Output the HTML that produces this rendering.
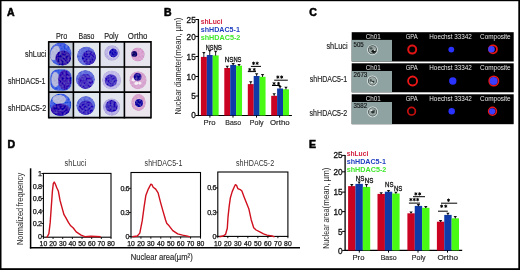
<!DOCTYPE html>
<html><head><meta charset="utf-8"><style>
html,body{margin:0;padding:0;background:#fff;}
body{width:520px;height:270px;overflow:hidden;position:relative;}
#w{position:absolute;left:0;top:0;width:520px;height:270px;will-change:transform;}
svg{display:block;font-family:"Liberation Sans", sans-serif;}
</style></head><body><div id="w">
<svg width="520" height="270" viewBox="0 0 520 270">
<rect x="0" y="0" width="520" height="270" fill="#fff"/>
<text x="7.0" y="15.5" font-size="10.5" fill="#000" font-weight="bold" stroke="#000" stroke-width="0.55">A</text>
<text x="164.0" y="15.6" font-size="10.5" fill="#000" font-weight="bold" stroke="#000" stroke-width="0.55">B</text>
<text x="309.3" y="15.8" font-size="10.5" fill="#000" font-weight="bold" stroke="#000" stroke-width="0.55">C</text>
<text x="7.5" y="147.8" font-size="10.5" fill="#000" font-weight="bold" stroke="#000" stroke-width="0.55">D</text>
<text x="309.0" y="147.6" font-size="10.5" fill="#000" font-weight="bold" stroke="#000" stroke-width="0.55">E</text>
<text x="56.0" y="38.5" font-size="9.4" fill="#262626" textLength="11.2" lengthAdjust="spacingAndGlyphs"  stroke="#262626" stroke-width="0.18">Pro</text>
<text x="78.6" y="38.5" font-size="9.4" fill="#262626" textLength="15.8" lengthAdjust="spacingAndGlyphs"  stroke="#262626" stroke-width="0.18">Baso</text>
<text x="104.2" y="38.5" font-size="9.4" fill="#262626" textLength="14.2" lengthAdjust="spacingAndGlyphs"  stroke="#262626" stroke-width="0.18">Poly</text>
<text x="127.8" y="38.5" font-size="9.4" fill="#262626" textLength="19.6" lengthAdjust="spacingAndGlyphs"  stroke="#262626" stroke-width="0.18">Ortho</text>
<text x="25.1" y="57.4" font-size="9.2" fill="#262626" textLength="21.2" lengthAdjust="spacingAndGlyphs"  stroke="#262626" stroke-width="0.18">shLuci</text>
<text x="7.9" y="83.8" font-size="9.2" fill="#262626" textLength="37.6" lengthAdjust="spacingAndGlyphs"  stroke="#262626" stroke-width="0.18">shHDAC5-1</text>
<text x="7.9" y="111.1" font-size="9.2" fill="#262626" textLength="38.3" lengthAdjust="spacingAndGlyphs"  stroke="#262626" stroke-width="0.18">shHDAC5-2</text>
<rect x="48.7" y="41.9" width="24.700000000000003" height="25.1" fill="#c5ced8" />
<rect x="73.4" y="41.9" width="26.39999999999999" height="25.1" fill="#e2e7ee" />
<rect x="99.8" y="41.9" width="24.60000000000001" height="25.1" fill="#e0e3ee" />
<rect x="124.4" y="41.9" width="26.599999999999994" height="25.1" fill="#e9e5ee" />
<rect x="48.7" y="67.0" width="24.700000000000003" height="25.099999999999994" fill="#c2cbd6" />
<rect x="73.4" y="67.0" width="26.39999999999999" height="25.099999999999994" fill="#e0e6ee" />
<rect x="99.8" y="67.0" width="24.60000000000001" height="25.099999999999994" fill="#e3e5ee" />
<rect x="124.4" y="67.0" width="26.599999999999994" height="25.099999999999994" fill="#ebe5ee" />
<rect x="48.7" y="92.1" width="24.700000000000003" height="25.5" fill="#c8d0dc" />
<rect x="73.4" y="92.1" width="26.39999999999999" height="25.5" fill="#e0e6ee" />
<rect x="99.8" y="92.1" width="24.60000000000001" height="25.5" fill="#e3e5ee" />
<rect x="124.4" y="92.1" width="26.599999999999994" height="25.5" fill="#ebe5ee" />
<defs><filter id="bl" x="-20%" y="-20%" width="140%" height="140%"><feGaussianBlur stdDeviation="0.55"/></filter><filter id="tex" x="-10%" y="-10%" width="120%" height="120%"><feTurbulence type="fractalNoise" baseFrequency="0.5" numOctaves="2" seed="4" result="n"/><feColorMatrix in="n" type="matrix" values="1 0 0 0 0 1 0 0 0 0 1 0 0 0 0 0 0 0 0 1" result="g"/><feComposite in="SourceGraphic" in2="g" operator="arithmetic" k1="0" k2="1" k3="0.22" k4="-0.11" result="m"/><feComposite in="m" in2="SourceAlpha" operator="in"/><feGaussianBlur stdDeviation="0.45"/></filter></defs>
<g filter="url(#tex)">
<ellipse cx="60.6" cy="54.0" rx="10.9" ry="11.5" fill="#4660e2" />
<ellipse cx="55.0" cy="53.0" rx="4.4" ry="7.6" fill="#b6badc" transform="rotate(20 55 53)"/>
<ellipse cx="63.2" cy="58.0" rx="7.9" ry="7.6" fill="#3a20aa" />
<ellipse cx="86.3" cy="56.0" rx="9.4" ry="9.4" fill="#6470dc" />
<ellipse cx="89.0" cy="57.6" rx="7.0" ry="7.2" fill="#3f2cbc" />
<ellipse cx="112.0" cy="53.0" rx="7.8" ry="7.8" fill="#bab2e2" />
<ellipse cx="113.0" cy="53.0" rx="5.3" ry="5.3" fill="#d6d2ee" />
<ellipse cx="113.4" cy="53.0" rx="4.4" ry="4.4" fill="#2c20bc" />
<ellipse cx="137.8" cy="54.5" rx="6.9" ry="6.9" fill="#d9a2d0" />
<ellipse cx="134.3" cy="53.9" rx="2.9" ry="2.9" fill="#1a0a72" />
<rect x="50.2" y="69.2" width="21.6" height="21.6" rx="8" fill="#4260e4"/>
<ellipse cx="55.4" cy="79.5" rx="4.0" ry="7.4" fill="#b4b8dc" />
<ellipse cx="64.6" cy="80.0" rx="6.6" ry="10.0" fill="#4224b4" />
<ellipse cx="85.4" cy="79.4" rx="9.5" ry="9.5" fill="#6470dc" />
<ellipse cx="85.6" cy="81.4" rx="7.6" ry="7.4" fill="#4a36c0" />
<ellipse cx="111.6" cy="80.0" rx="9.6" ry="9.6" fill="#c2bae8" />
<ellipse cx="110.9" cy="80.5" rx="6.2" ry="6.2" fill="#4a38c0" />
<ellipse cx="138.0" cy="80.2" rx="8.6" ry="9.0" fill="#d8a6d0" />
<ellipse cx="133.4" cy="79.8" rx="1.8" ry="1.8" fill="#f4f0f6" />
<ellipse cx="136.4" cy="83.3" rx="1.9" ry="1.8" fill="#f4f0f6" />
<ellipse cx="139.9" cy="83.1" rx="1.6" ry="1.6" fill="#f4f0f6" />
<ellipse cx="137.6" cy="76.8" rx="3.9" ry="3.9" fill="#2a149c" />
<ellipse cx="60.5" cy="104.8" rx="10.8" ry="11.4" fill="#4462e4" />
<ellipse cx="59.2" cy="99.6" rx="6.8" ry="4.6" fill="#b6badc" />
<ellipse cx="60.4" cy="109.6" rx="9.6" ry="6.2" fill="#3414b0" />
<ellipse cx="85.8" cy="105.6" rx="9.5" ry="9.5" fill="#6470dc" />
<ellipse cx="86.0" cy="107.8" rx="7.6" ry="7.2" fill="#4230c0" />
<ellipse cx="111.6" cy="107.0" rx="8.6" ry="8.8" fill="#b4ace4" />
<ellipse cx="111.6" cy="106.2" rx="6.1" ry="6.1" fill="#4230bc" />
<ellipse cx="138.5" cy="102.6" rx="7.3" ry="8.5" fill="#d8a2cc" />
<ellipse cx="138.8" cy="103.0" rx="4.7" ry="4.7" fill="#e2c8e0" />
<ellipse cx="139.0" cy="103.0" rx="4.0" ry="4.0" fill="#2412a4" />
</g>
<line x1="48.7" y1="41.1" x2="48.7" y2="118.39999999999999" stroke="#000" stroke-width="1.6" />
<line x1="73.4" y1="41.1" x2="73.4" y2="118.39999999999999" stroke="#000" stroke-width="1.6" />
<line x1="99.8" y1="41.1" x2="99.8" y2="118.39999999999999" stroke="#000" stroke-width="1.6" />
<line x1="124.4" y1="41.1" x2="124.4" y2="118.39999999999999" stroke="#000" stroke-width="1.6" />
<line x1="151.0" y1="41.1" x2="151.0" y2="118.39999999999999" stroke="#000" stroke-width="1.6" />
<line x1="48.7" y1="41.9" x2="151.0" y2="41.9" stroke="#000" stroke-width="1.6" />
<line x1="48.7" y1="67.0" x2="151.0" y2="67.0" stroke="#000" stroke-width="1.6" />
<line x1="48.7" y1="92.1" x2="151.0" y2="92.1" stroke="#000" stroke-width="1.6" />
<line x1="48.7" y1="117.6" x2="151.0" y2="117.6" stroke="#000" stroke-width="1.6" />
<line x1="198.4" y1="19.0" x2="198.4" y2="116.1" stroke="#000" stroke-width="1.3" />
<line x1="197.8" y1="115.5" x2="291.9" y2="115.5" stroke="#000" stroke-width="1.2" />
<line x1="195.4" y1="19.5" x2="198.4" y2="19.5" stroke="#000" stroke-width="1" />
<text x="195.7" y="23.0" font-size="8.2" fill="#111" text-anchor="end" stroke="#111" stroke-width="0.3">25</text>
<line x1="195.4" y1="36.4" x2="198.4" y2="36.4" stroke="#000" stroke-width="1" />
<text x="195.7" y="39.7" font-size="8.2" fill="#111" text-anchor="end" stroke="#111" stroke-width="0.3">20</text>
<line x1="195.4" y1="56.5" x2="198.4" y2="56.5" stroke="#000" stroke-width="1" />
<text x="195.7" y="60.0" font-size="8.2" fill="#111" text-anchor="end" stroke="#111" stroke-width="0.3">15</text>
<line x1="195.4" y1="76.5" x2="198.4" y2="76.5" stroke="#000" stroke-width="1" />
<text x="195.7" y="79.8" font-size="8.2" fill="#111" text-anchor="end" stroke="#111" stroke-width="0.3">10</text>
<line x1="195.4" y1="96.0" x2="198.4" y2="96.0" stroke="#000" stroke-width="1" />
<text x="195.7" y="99.4" font-size="8.2" fill="#111" text-anchor="end" stroke="#111" stroke-width="0.3">5</text>
<line x1="195.4" y1="115.5" x2="198.4" y2="115.5" stroke="#000" stroke-width="1" />
<text x="195.7" y="117.7" font-size="8.2" fill="#111" text-anchor="end" stroke="#111" stroke-width="0.3">0</text>
<rect x="200.9" y="56.9" width="5.95" height="58.6" fill="#cb0322" />
<rect x="206.8" y="55.0" width="5.95" height="60.5" fill="#0f3ba8" />
<rect x="212.70000000000002" y="55.4" width="5.95" height="60.1" fill="#48fa14" />
<rect x="224.3" y="68.0" width="5.95" height="47.5" fill="#cb0322" />
<rect x="230.20000000000002" y="64.9" width="5.95" height="50.599999999999994" fill="#0f3ba8" />
<rect x="236.10000000000002" y="65.7" width="5.95" height="49.8" fill="#48fa14" />
<rect x="247.8" y="84.1" width="5.95" height="31.400000000000006" fill="#cb0322" />
<rect x="253.70000000000002" y="76.0" width="5.95" height="39.5" fill="#0f3ba8" />
<rect x="259.6" y="76.8" width="5.95" height="38.7" fill="#48fa14" />
<rect x="271.2" y="95.8" width="5.95" height="19.700000000000003" fill="#cb0322" />
<rect x="277.09999999999997" y="88.5" width="5.95" height="27.0" fill="#0f3ba8" />
<rect x="283.0" y="89.3" width="5.95" height="26.200000000000003" fill="#48fa14" />
<path d="M202.15,51.90L205.55,51.90L204.30,53.70L204.30,57.20L203.40,57.20L203.40,53.70Z" fill="#111"/>
<path d="M208.05,49.90L211.45,49.90L210.20,51.70L210.20,55.30L209.30,55.30L209.30,51.70Z" fill="#111"/>
<path d="M213.95,50.70L217.35,50.70L216.10,52.50L216.10,55.70L215.20,55.70L215.20,52.50Z" fill="#111"/>
<path d="M225.55,65.70L228.95,65.70L227.70,67.50L227.70,68.30L226.80,68.30L226.80,67.50Z" fill="#111"/>
<path d="M231.45,63.00L234.85,63.00L233.60,64.80L233.60,65.20L232.70,65.20L232.70,64.80Z" fill="#111"/>
<path d="M237.35,63.90L240.75,63.90L239.50,65.70L239.50,66.00L238.60,66.00L238.60,65.70Z" fill="#111"/>
<path d="M249.05,81.20L252.45,81.20L251.20,83.00L251.20,84.40L250.30,84.40L250.30,83.00Z" fill="#111"/>
<path d="M254.95,73.20L258.35,73.20L257.10,75.00L257.10,76.30L256.20,76.30L256.20,75.00Z" fill="#111"/>
<path d="M260.85,74.00L264.25,74.00L263.00,75.80L263.00,77.10L262.10,77.10L262.10,75.80Z" fill="#111"/>
<path d="M272.45,93.20L275.85,93.20L274.60,95.00L274.60,96.10L273.70,96.10L273.70,95.00Z" fill="#111"/>
<path d="M278.35,85.90L281.75,85.90L280.50,87.70L280.50,88.80L279.60,88.80L279.60,87.70Z" fill="#111"/>
<path d="M284.25,86.70L287.65,86.70L286.40,88.50L286.40,89.60L285.50,89.60L285.50,88.50Z" fill="#111"/>
<line x1="209.9" y1="115.5" x2="209.9" y2="117.6" stroke="#000" stroke-width="1" />
<text x="203.60000000000002" y="124.6" font-size="7.8" fill="#262626" textLength="12.0" lengthAdjust="spacingAndGlyphs"  stroke="#262626" stroke-width="0.18">Pro</text>
<line x1="233.0" y1="115.5" x2="233.0" y2="117.6" stroke="#000" stroke-width="1" />
<text x="225.3" y="124.6" font-size="7.8" fill="#262626" textLength="15.8" lengthAdjust="spacingAndGlyphs"  stroke="#262626" stroke-width="0.18">Baso</text>
<line x1="256.5" y1="115.5" x2="256.5" y2="117.6" stroke="#000" stroke-width="1" />
<text x="249.8" y="124.6" font-size="7.8" fill="#262626" textLength="13.700000000000001" lengthAdjust="spacingAndGlyphs"  stroke="#262626" stroke-width="0.18">Poly</text>
<line x1="279.6" y1="115.5" x2="279.6" y2="117.6" stroke="#000" stroke-width="1" />
<text x="270.0" y="124.6" font-size="7.8" fill="#262626" textLength="19.599999999999998" lengthAdjust="spacingAndGlyphs"  stroke="#262626" stroke-width="0.18">Ortho</text>
<text x="200.7" y="24.2" font-size="8.0" fill="#d21e3c" font-weight="bold" textLength="21.8" lengthAdjust="spacingAndGlyphs" >shLuci</text>
<text x="200.7" y="32.4" font-size="8.0" fill="#1f3fc0" font-weight="bold" textLength="39.2" lengthAdjust="spacingAndGlyphs" >shHDAC5-1</text>
<text x="200.7" y="40.3" font-size="8.0" fill="#3fe82a" font-weight="bold" textLength="39.7" lengthAdjust="spacingAndGlyphs" >shHDAC5-2</text>
<text x="205.7" y="50.0" font-size="6.7" fill="#111" textLength="7.6" lengthAdjust="spacingAndGlyphs" stroke="#111" stroke-width="0.28">NS</text>
<text x="213.4" y="49.6" font-size="6.7" fill="#111" textLength="8.6" lengthAdjust="spacingAndGlyphs" stroke="#111" stroke-width="0.28">NS</text>
<text x="224.8" y="61.8" font-size="6.7" fill="#111" textLength="8.7" lengthAdjust="spacingAndGlyphs" stroke="#111" stroke-width="0.28">NS</text>
<text x="233.4" y="62.0" font-size="6.7" fill="#111" textLength="8.1" lengthAdjust="spacingAndGlyphs" stroke="#111" stroke-width="0.28">NS</text>
<line x1="250.9" y1="66.4" x2="261" y2="66.4" stroke="#000" stroke-width="1.0" />
<path d="M253.55,61.65L253.55,64.95M252.12,62.47L254.98,64.12M254.98,62.47L252.12,64.12" stroke="#000" stroke-width="0.95" fill="none"/>
<path d="M257.15,61.65L257.15,64.95M255.72,62.47L258.58,64.12M258.58,62.47L255.72,64.12" stroke="#000" stroke-width="0.95" fill="none"/>
<line x1="247.8" y1="71.6" x2="256" y2="71.6" stroke="#000" stroke-width="1.0" />
<path d="M249.75,67.95L249.75,71.25M248.32,68.77L251.18,70.42M251.18,68.77L248.32,70.42" stroke="#000" stroke-width="0.95" fill="none"/>
<path d="M254.25,67.95L254.25,71.25M252.82,68.77L255.68,70.42M255.68,68.77L252.82,70.42" stroke="#000" stroke-width="0.95" fill="none"/>
<line x1="274.2" y1="80.2" x2="287.8" y2="80.2" stroke="#000" stroke-width="1.0" />
<path d="M277.85,75.45L277.85,78.75M276.42,76.27L279.28,77.92M279.28,76.27L276.42,77.92" stroke="#000" stroke-width="0.95" fill="none"/>
<path d="M281.65,75.45L281.65,78.75M280.22,76.27L283.08,77.92M283.08,76.27L280.22,77.92" stroke="#000" stroke-width="0.95" fill="none"/>
<line x1="272" y1="85.5" x2="280.5" y2="85.5" stroke="#000" stroke-width="1.0" />
<path d="M274.05,81.95L274.05,85.25M272.62,82.77L275.48,84.42M275.48,82.77L272.62,84.42" stroke="#000" stroke-width="0.95" fill="none"/>
<path d="M278.55,81.95L278.55,85.25M277.12,82.77L279.98,84.42M279.98,82.77L277.12,84.42" stroke="#000" stroke-width="0.95" fill="none"/>
<text transform="translate(181.4,114.6) rotate(-90)" font-size="9.6" fill="#262626" textLength="56.0" lengthAdjust="spacingAndGlyphs">Nuclear diameter</text>
<text transform="translate(181.4,58.4) rotate(-90)" font-size="9.6" fill="#262626" textLength="40.9" lengthAdjust="spacingAndGlyphs">(mean, µm)</text>
<text x="326.4" y="49.2" font-size="9.4" fill="#262626" textLength="21.2" lengthAdjust="spacingAndGlyphs"  stroke="#262626" stroke-width="0.18">shLuci</text>
<text x="309.8" y="82.0" font-size="9.4" fill="#262626" textLength="37.4" lengthAdjust="spacingAndGlyphs"  stroke="#262626" stroke-width="0.18">shHDAC5-1</text>
<text x="309.6" y="115.5" font-size="9.4" fill="#262626" textLength="37.6" lengthAdjust="spacingAndGlyphs"  stroke="#262626" stroke-width="0.18">shHDAC5-2</text>
<rect x="351.7" y="32.2" width="162" height="29.3" fill="#000" />
<rect x="351.7" y="39.900000000000006" width="40.3" height="21.5" fill="#8fa3a2" />
<text x="365.8" y="38.7" font-size="6.6" fill="#e6e6e6" textLength="15" lengthAdjust="spacingAndGlyphs" >Ch01</text>
<text x="405.7" y="38.7" font-size="6.6" fill="#e6e6e6" textLength="12" lengthAdjust="spacingAndGlyphs" >GPA</text>
<text x="429.3" y="38.7" font-size="6.6" fill="#e6e6e6" textLength="42.6" lengthAdjust="spacingAndGlyphs" >Hoechst 33342</text>
<text x="480.09999999999997" y="38.7" font-size="6.6" fill="#e6e6e6" textLength="30.6" lengthAdjust="spacingAndGlyphs" >Composite</text>
<text x="353.5" y="46.9" font-size="7.0" fill="#111" textLength="10.2" lengthAdjust="spacingAndGlyphs" stroke="#111" stroke-width="0.15">505</text>
<g filter="url(#bl)">
<ellipse cx="372.5" cy="49.800000000000004" rx="5.4" ry="5.4" fill="#dce6e4" />
<ellipse cx="372.5" cy="49.800000000000004" rx="4.5" ry="4.5" fill="#38423f" />
<ellipse cx="372.5" cy="49.800000000000004" rx="3.8" ry="3.8" fill="#98a6a4" />
<ellipse cx="373.7" cy="51.300000000000004" rx="2.2" ry="1.6" fill="#121816" />
<ellipse cx="371.1" cy="48.400000000000006" rx="1.6" ry="1.1" fill="#46524f" />
<ellipse cx="374.5" cy="50.300000000000004" rx="0.8" ry="0.8" fill="#eef3f2" />
</g>
<g filter="url(#bl)">
<ellipse cx="412.2" cy="49.6" rx="4.0" ry="4.0" fill="none" stroke="#e01212" stroke-width="2.0"/>
<ellipse cx="451.3" cy="49.6" rx="2.9" ry="2.9" fill="#2a30ff" />
<ellipse cx="493.0" cy="49.3" rx="4.0" ry="4.0" fill="none" stroke="#e81414" stroke-width="1.8"/>
<ellipse cx="491.5" cy="49.3" rx="3.3" ry="3.3" fill="#3a3cff" />
</g>
<rect x="351.7" y="63.3" width="162" height="29.0" fill="#000" />
<rect x="351.7" y="71.0" width="40.3" height="21.2" fill="#8fa3a2" />
<text x="365.8" y="69.8" font-size="6.6" fill="#e6e6e6" textLength="15" lengthAdjust="spacingAndGlyphs" >Ch01</text>
<text x="405.7" y="69.8" font-size="6.6" fill="#e6e6e6" textLength="12" lengthAdjust="spacingAndGlyphs" >GPA</text>
<text x="429.3" y="69.8" font-size="6.6" fill="#e6e6e6" textLength="42.6" lengthAdjust="spacingAndGlyphs" >Hoechst 33342</text>
<text x="480.09999999999997" y="69.8" font-size="6.6" fill="#e6e6e6" textLength="30.6" lengthAdjust="spacingAndGlyphs" >Composite</text>
<text x="353.5" y="76.9" font-size="7.0" fill="#111" textLength="13.8" lengthAdjust="spacingAndGlyphs" stroke="#111" stroke-width="0.15">2673</text>
<g filter="url(#bl)">
<ellipse cx="372.4" cy="80.9" rx="5.4" ry="5.4" fill="#dce6e4" />
<ellipse cx="372.4" cy="80.9" rx="4.5" ry="4.5" fill="#38423f" />
<ellipse cx="372.4" cy="80.9" rx="3.8" ry="3.8" fill="#98a6a4" />
<ellipse cx="373.0" cy="81.7" rx="1.4" ry="1.0" fill="#2a3230" />
<ellipse cx="370.79999999999995" cy="80.30000000000001" rx="1.0" ry="1.4" fill="#4a5553" />
<ellipse cx="372.0" cy="82.5" rx="0.9" ry="0.7" fill="#e8eeed" />
</g>
<g filter="url(#bl)">
<ellipse cx="412.6" cy="81.0" rx="4.5" ry="4.5" fill="none" stroke="#f01818" stroke-width="1.8"/>
<ellipse cx="452.8" cy="81.0" rx="3.7" ry="3.7" fill="#2a30ff" />
<ellipse cx="493.8" cy="81.0" rx="4.7" ry="4.7" fill="none" stroke="#e81414" stroke-width="1.6"/>
<ellipse cx="493.6" cy="81.0" rx="4.0" ry="4.0" fill="#3a3cff" />
</g>
<rect x="351.7" y="94.3" width="162" height="29.9" fill="#000" />
<rect x="351.7" y="102.0" width="40.3" height="22.099999999999998" fill="#8fa3a2" />
<text x="365.8" y="100.8" font-size="6.6" fill="#e6e6e6" textLength="15" lengthAdjust="spacingAndGlyphs" >Ch01</text>
<text x="405.7" y="100.8" font-size="6.6" fill="#e6e6e6" textLength="12" lengthAdjust="spacingAndGlyphs" >GPA</text>
<text x="429.3" y="100.8" font-size="6.6" fill="#e6e6e6" textLength="42.6" lengthAdjust="spacingAndGlyphs" >Hoechst 33342</text>
<text x="480.09999999999997" y="100.8" font-size="6.6" fill="#e6e6e6" textLength="30.6" lengthAdjust="spacingAndGlyphs" >Composite</text>
<text x="353.5" y="107.9" font-size="7.0" fill="#111" textLength="13.6" lengthAdjust="spacingAndGlyphs" stroke="#111" stroke-width="0.15">3582</text>
<g filter="url(#bl)">
<ellipse cx="372.6" cy="111.9" rx="5.4" ry="5.4" fill="#dce6e4" />
<ellipse cx="372.6" cy="111.9" rx="4.5" ry="4.5" fill="#38423f" />
<ellipse cx="372.6" cy="111.9" rx="3.8" ry="3.8" fill="#98a6a4" />
<ellipse cx="372.90000000000003" cy="112.10000000000001" rx="1.8" ry="1.4" fill="#2a3230" />
<ellipse cx="371.20000000000005" cy="110.30000000000001" rx="1.0" ry="0.8" fill="#f0f4f3" />
<ellipse cx="374.1" cy="110.7" rx="0.9" ry="0.9" fill="#4a5553" />
</g>
<g filter="url(#bl)">
<ellipse cx="411.6" cy="111.2" rx="3.8" ry="3.8" fill="none" stroke="#c81010" stroke-width="1.7"/>
<ellipse cx="451.7" cy="111.2" rx="3.2" ry="3.2" fill="#2a30ff" />
<ellipse cx="492.5" cy="111.2" rx="3.9" ry="3.9" fill="none" stroke="#e81414" stroke-width="1.6"/>
<ellipse cx="492.2" cy="111.3" rx="3.1" ry="3.1" fill="#3a3cff" />
</g>
<line x1="30.6" y1="168.3" x2="30.6" y2="248.5" stroke="#000" stroke-width="1.5" />
<line x1="29.9" y1="247.8" x2="300" y2="247.8" stroke="#000" stroke-width="1.5" />
<text transform="translate(22.6,245) rotate(-90)" font-size="9" fill="#262626" textLength="37.2" lengthAdjust="spacingAndGlyphs">Normalized</text>
<text transform="translate(22.6,206.4) rotate(-90)" font-size="9" fill="#262626" textLength="33.7" lengthAdjust="spacingAndGlyphs">frequency</text>
<text x="130.7" y="260.4" font-size="9.8" fill="#262626" textLength="62" lengthAdjust="spacingAndGlyphs"  stroke="#262626" stroke-width="0.18">Nuclear area(µm²)</text>
<rect x="43.4" y="173.4" width="67.6" height="63.79999999999998" fill="none" stroke="#000" stroke-width="1.1"/>
<line x1="41.4" y1="173.5" x2="43.4" y2="173.5" stroke="#000" stroke-width="0.9" />
<text x="41.6" y="176.0" font-size="7.2" fill="#111" text-anchor="end" letter-spacing="-0.4" stroke="#111" stroke-width="0.25">1</text>
<line x1="41.4" y1="186" x2="43.4" y2="186" stroke="#000" stroke-width="0.9" />
<text x="41.6" y="188.5" font-size="7.2" fill="#111" text-anchor="end" letter-spacing="-0.4" stroke="#111" stroke-width="0.25">0.8</text>
<line x1="41.4" y1="198.5" x2="43.4" y2="198.5" stroke="#000" stroke-width="0.9" />
<text x="41.6" y="201.0" font-size="7.2" fill="#111" text-anchor="end" letter-spacing="-0.4" stroke="#111" stroke-width="0.25">0.6</text>
<line x1="41.4" y1="211" x2="43.4" y2="211" stroke="#000" stroke-width="0.9" />
<text x="41.6" y="213.5" font-size="7.2" fill="#111" text-anchor="end" letter-spacing="-0.4" stroke="#111" stroke-width="0.25">0.4</text>
<line x1="41.4" y1="223.5" x2="43.4" y2="223.5" stroke="#000" stroke-width="0.9" />
<text x="41.6" y="226.0" font-size="7.2" fill="#111" text-anchor="end" letter-spacing="-0.4" stroke="#111" stroke-width="0.25">0.2</text>
<line x1="41.4" y1="236.3" x2="43.4" y2="236.3" stroke="#000" stroke-width="0.9" />
<text x="41.6" y="238.8" font-size="7.2" fill="#111" text-anchor="end" letter-spacing="-0.4" stroke="#111" stroke-width="0.25">0</text>
<line x1="43.4" y1="237.2" x2="43.4" y2="239.0" stroke="#000" stroke-width="0.9" />
<text x="43.4" y="245.9" font-size="7.2" fill="#111" text-anchor="middle" textLength="7.6" lengthAdjust="spacingAndGlyphs" stroke="#111" stroke-width="0.25">10</text>
<line x1="53.05714285714286" y1="237.2" x2="53.05714285714286" y2="239.0" stroke="#000" stroke-width="0.9" />
<text x="53.05714285714286" y="245.9" font-size="7.2" fill="#111" text-anchor="middle" textLength="7.6" lengthAdjust="spacingAndGlyphs" stroke="#111" stroke-width="0.25">20</text>
<line x1="62.71428571428571" y1="237.2" x2="62.71428571428571" y2="239.0" stroke="#000" stroke-width="0.9" />
<text x="62.71428571428571" y="245.9" font-size="7.2" fill="#111" text-anchor="middle" textLength="7.6" lengthAdjust="spacingAndGlyphs" stroke="#111" stroke-width="0.25">30</text>
<line x1="72.37142857142857" y1="237.2" x2="72.37142857142857" y2="239.0" stroke="#000" stroke-width="0.9" />
<text x="72.37142857142857" y="245.9" font-size="7.2" fill="#111" text-anchor="middle" textLength="7.6" lengthAdjust="spacingAndGlyphs" stroke="#111" stroke-width="0.25">40</text>
<line x1="82.02857142857142" y1="237.2" x2="82.02857142857142" y2="239.0" stroke="#000" stroke-width="0.9" />
<text x="82.02857142857142" y="245.9" font-size="7.2" fill="#111" text-anchor="middle" textLength="7.6" lengthAdjust="spacingAndGlyphs" stroke="#111" stroke-width="0.25">50</text>
<line x1="91.68571428571428" y1="237.2" x2="91.68571428571428" y2="239.0" stroke="#000" stroke-width="0.9" />
<text x="91.68571428571428" y="245.9" font-size="7.2" fill="#111" text-anchor="middle" textLength="7.6" lengthAdjust="spacingAndGlyphs" stroke="#111" stroke-width="0.25">60</text>
<line x1="101.34285714285713" y1="237.2" x2="101.34285714285713" y2="239.0" stroke="#000" stroke-width="0.9" />
<text x="101.34285714285713" y="245.9" font-size="7.2" fill="#111" text-anchor="middle" textLength="7.6" lengthAdjust="spacingAndGlyphs" stroke="#111" stroke-width="0.25">70</text>
<line x1="111.0" y1="237.2" x2="111.0" y2="239.0" stroke="#000" stroke-width="0.9" />
<text x="111.0" y="245.9" font-size="7.2" fill="#111" text-anchor="middle" textLength="7.6" lengthAdjust="spacingAndGlyphs" stroke="#111" stroke-width="0.25">80</text>
<text x="64.6" y="165.5" font-size="9.2" fill="#333" textLength="21.6" lengthAdjust="spacingAndGlyphs" >shLuci</text>
<path d="M46.5,237.2 L47.3,236.8 L48.9,233.6 L50.2,222.4 L51.3,206.9 L52.4,191.3 L53.3,183.6 L54.2,182.0 L55.1,183.6 L56.9,188.0 L58.4,191.3 L60.0,200.2 L61.8,206.9 L64.0,214.7 L65.8,217.6 L68.4,222.4 L70.7,225.8 L73.3,228.0 L76.2,231.9 L81.1,235.1 L84.8,236.6 L90.9,236.2 L100.7,236.8" fill="none" stroke="#d0101e" stroke-width="1.4" stroke-linejoin="round"/>
<rect x="131.0" y="172.5" width="69.5" height="64.4" fill="none" stroke="#000" stroke-width="1.1"/>
<line x1="129.0" y1="188.3" x2="131.0" y2="188.3" stroke="#000" stroke-width="0.9" />
<text x="129.2" y="190.8" font-size="7.2" fill="#111" text-anchor="end" letter-spacing="-0.4" stroke="#111" stroke-width="0.25">0.6</text>
<line x1="129.0" y1="212.5" x2="131.0" y2="212.5" stroke="#000" stroke-width="0.9" />
<text x="129.2" y="215.0" font-size="7.2" fill="#111" text-anchor="end" letter-spacing="-0.4" stroke="#111" stroke-width="0.25">0.3</text>
<line x1="129.0" y1="236.5" x2="131.0" y2="236.5" stroke="#000" stroke-width="0.9" />
<text x="129.2" y="239.0" font-size="7.2" fill="#111" text-anchor="end" letter-spacing="-0.4" stroke="#111" stroke-width="0.25">0</text>
<line x1="131.0" y1="236.9" x2="131.0" y2="238.70000000000002" stroke="#000" stroke-width="0.9" />
<text x="131.0" y="245.9" font-size="7.2" fill="#111" text-anchor="middle" textLength="7.6" lengthAdjust="spacingAndGlyphs" stroke="#111" stroke-width="0.25">10</text>
<line x1="140.92857142857142" y1="236.9" x2="140.92857142857142" y2="238.70000000000002" stroke="#000" stroke-width="0.9" />
<text x="140.92857142857142" y="245.9" font-size="7.2" fill="#111" text-anchor="middle" textLength="7.6" lengthAdjust="spacingAndGlyphs" stroke="#111" stroke-width="0.25">20</text>
<line x1="150.85714285714286" y1="236.9" x2="150.85714285714286" y2="238.70000000000002" stroke="#000" stroke-width="0.9" />
<text x="150.85714285714286" y="245.9" font-size="7.2" fill="#111" text-anchor="middle" textLength="7.6" lengthAdjust="spacingAndGlyphs" stroke="#111" stroke-width="0.25">30</text>
<line x1="160.78571428571428" y1="236.9" x2="160.78571428571428" y2="238.70000000000002" stroke="#000" stroke-width="0.9" />
<text x="160.78571428571428" y="245.9" font-size="7.2" fill="#111" text-anchor="middle" textLength="7.6" lengthAdjust="spacingAndGlyphs" stroke="#111" stroke-width="0.25">40</text>
<line x1="170.71428571428572" y1="236.9" x2="170.71428571428572" y2="238.70000000000002" stroke="#000" stroke-width="0.9" />
<text x="170.71428571428572" y="245.9" font-size="7.2" fill="#111" text-anchor="middle" textLength="7.6" lengthAdjust="spacingAndGlyphs" stroke="#111" stroke-width="0.25">50</text>
<line x1="180.64285714285714" y1="236.9" x2="180.64285714285714" y2="238.70000000000002" stroke="#000" stroke-width="0.9" />
<text x="180.64285714285714" y="245.9" font-size="7.2" fill="#111" text-anchor="middle" textLength="7.6" lengthAdjust="spacingAndGlyphs" stroke="#111" stroke-width="0.25">60</text>
<line x1="190.57142857142856" y1="236.9" x2="190.57142857142856" y2="238.70000000000002" stroke="#000" stroke-width="0.9" />
<text x="190.57142857142856" y="245.9" font-size="7.2" fill="#111" text-anchor="middle" textLength="7.6" lengthAdjust="spacingAndGlyphs" stroke="#111" stroke-width="0.25">70</text>
<line x1="200.5" y1="236.9" x2="200.5" y2="238.70000000000002" stroke="#000" stroke-width="0.9" />
<text x="200.5" y="245.9" font-size="7.2" fill="#111" text-anchor="middle" textLength="7.6" lengthAdjust="spacingAndGlyphs" stroke="#111" stroke-width="0.25">80</text>
<text x="144.6" y="165.5" font-size="9.2" fill="#333" textLength="37.8" lengthAdjust="spacingAndGlyphs" >shHDAC5-1</text>
<path d="M132.4,236.8 L137.3,236.0 L139.8,233.1 L142.2,220.9 L144.2,206.2 L145.9,195.2 L148.3,189.1 L150.8,184.2 L152.0,184.7 L153.2,187.2 L155.7,189.1 L158.1,192.8 L160.6,202.6 L163.0,211.1 L165.5,219.7 L166.7,223.3 L169.1,225.8 L172.8,230.7 L177.7,233.9 L182.6,235.1 L187.5,236.1 L189.9,236.8" fill="none" stroke="#d0101e" stroke-width="1.4" stroke-linejoin="round"/>
<rect x="217.8" y="172.0" width="70.09999999999997" height="64.4" fill="none" stroke="#000" stroke-width="1.1"/>
<line x1="215.8" y1="187.9" x2="217.8" y2="187.9" stroke="#000" stroke-width="0.9" />
<text x="216.0" y="190.4" font-size="7.2" fill="#111" text-anchor="end" letter-spacing="-0.4" stroke="#111" stroke-width="0.25">0.6</text>
<line x1="215.8" y1="212.2" x2="217.8" y2="212.2" stroke="#000" stroke-width="0.9" />
<text x="216.0" y="214.7" font-size="7.2" fill="#111" text-anchor="end" letter-spacing="-0.4" stroke="#111" stroke-width="0.25">0.3</text>
<line x1="215.8" y1="236.2" x2="217.8" y2="236.2" stroke="#000" stroke-width="0.9" />
<text x="216.0" y="238.7" font-size="7.2" fill="#111" text-anchor="end" letter-spacing="-0.4" stroke="#111" stroke-width="0.25">0</text>
<line x1="217.8" y1="236.4" x2="217.8" y2="238.20000000000002" stroke="#000" stroke-width="0.9" />
<text x="217.8" y="245.9" font-size="7.2" fill="#111" text-anchor="middle" textLength="7.6" lengthAdjust="spacingAndGlyphs" stroke="#111" stroke-width="0.25">10</text>
<line x1="227.81428571428572" y1="236.4" x2="227.81428571428572" y2="238.20000000000002" stroke="#000" stroke-width="0.9" />
<text x="227.81428571428572" y="245.9" font-size="7.2" fill="#111" text-anchor="middle" textLength="7.6" lengthAdjust="spacingAndGlyphs" stroke="#111" stroke-width="0.25">20</text>
<line x1="237.82857142857142" y1="236.4" x2="237.82857142857142" y2="238.20000000000002" stroke="#000" stroke-width="0.9" />
<text x="237.82857142857142" y="245.9" font-size="7.2" fill="#111" text-anchor="middle" textLength="7.6" lengthAdjust="spacingAndGlyphs" stroke="#111" stroke-width="0.25">30</text>
<line x1="247.84285714285713" y1="236.4" x2="247.84285714285713" y2="238.20000000000002" stroke="#000" stroke-width="0.9" />
<text x="247.84285714285713" y="245.9" font-size="7.2" fill="#111" text-anchor="middle" textLength="7.6" lengthAdjust="spacingAndGlyphs" stroke="#111" stroke-width="0.25">40</text>
<line x1="257.85714285714283" y1="236.4" x2="257.85714285714283" y2="238.20000000000002" stroke="#000" stroke-width="0.9" />
<text x="257.85714285714283" y="245.9" font-size="7.2" fill="#111" text-anchor="middle" textLength="7.6" lengthAdjust="spacingAndGlyphs" stroke="#111" stroke-width="0.25">50</text>
<line x1="267.87142857142857" y1="236.4" x2="267.87142857142857" y2="238.20000000000002" stroke="#000" stroke-width="0.9" />
<text x="267.87142857142857" y="245.9" font-size="7.2" fill="#111" text-anchor="middle" textLength="7.6" lengthAdjust="spacingAndGlyphs" stroke="#111" stroke-width="0.25">60</text>
<line x1="277.88571428571424" y1="236.4" x2="277.88571428571424" y2="238.20000000000002" stroke="#000" stroke-width="0.9" />
<text x="277.88571428571424" y="245.9" font-size="7.2" fill="#111" text-anchor="middle" textLength="7.6" lengthAdjust="spacingAndGlyphs" stroke="#111" stroke-width="0.25">70</text>
<line x1="287.9" y1="236.4" x2="287.9" y2="238.20000000000002" stroke="#000" stroke-width="0.9" />
<text x="287.9" y="245.9" font-size="7.2" fill="#111" text-anchor="middle" textLength="7.6" lengthAdjust="spacingAndGlyphs" stroke="#111" stroke-width="0.25">80</text>
<text x="236" y="165.5" font-size="9.2" fill="#333" textLength="38.2" lengthAdjust="spacingAndGlyphs" >shHDAC5-2</text>
<path d="M219.4,236.8 L223.1,236.0 L225.6,234.3 L227.3,228.2 L228.0,217.2 L229.2,206.2 L230.4,197.7 L232.2,191.6 L234.1,187.2 L235.3,184.7 L236.6,185.4 L237.8,188.6 L240.2,189.6 L241.9,191.1 L243.9,196.4 L246.3,202.6 L248.8,208.7 L251.2,219.7 L253.7,227.7 L256.1,230.0 L259.8,231.9 L263.5,233.9 L267.1,235.1 L272.0,236.0 L274.5,236.8" fill="none" stroke="#d0101e" stroke-width="1.4" stroke-linejoin="round"/>
<line x1="345.1" y1="155.0" x2="345.1" y2="251.0" stroke="#000" stroke-width="1.3" />
<line x1="344.5" y1="250.4" x2="462.2" y2="250.4" stroke="#000" stroke-width="1.2" />
<line x1="342.1" y1="155.4" x2="345.1" y2="155.4" stroke="#000" stroke-width="1" />
<text x="342.6" y="158.3" font-size="8.2" fill="#111" text-anchor="end" stroke="#111" stroke-width="0.3">25</text>
<line x1="342.1" y1="171.8" x2="345.1" y2="171.8" stroke="#000" stroke-width="1" />
<text x="342.6" y="175.2" font-size="8.2" fill="#111" text-anchor="end" stroke="#111" stroke-width="0.3">20</text>
<line x1="342.1" y1="192.1" x2="345.1" y2="192.1" stroke="#000" stroke-width="1" />
<text x="342.6" y="195.4" font-size="8.2" fill="#111" text-anchor="end" stroke="#111" stroke-width="0.3">15</text>
<line x1="342.1" y1="211.6" x2="345.1" y2="211.6" stroke="#000" stroke-width="1" />
<text x="342.6" y="215.0" font-size="8.2" fill="#111" text-anchor="end" stroke="#111" stroke-width="0.3">10</text>
<line x1="342.1" y1="231.4" x2="345.1" y2="231.4" stroke="#000" stroke-width="1" />
<text x="342.6" y="234.6" font-size="8.2" fill="#111" text-anchor="end" stroke="#111" stroke-width="0.3">5</text>
<line x1="342.1" y1="250.4" x2="345.1" y2="250.4" stroke="#000" stroke-width="1" />
<text x="342.6" y="253.6" font-size="8.2" fill="#111" text-anchor="end" stroke="#111" stroke-width="0.3">0</text>
<rect x="348.1" y="186.1" width="7.3999999999999995" height="64.30000000000001" fill="#cb0322" />
<rect x="355.45000000000005" y="183.9" width="7.3999999999999995" height="66.5" fill="#0f3ba8" />
<rect x="362.8" y="186.9" width="7.3999999999999995" height="63.5" fill="#48fa14" />
<rect x="377.5" y="193.9" width="7.3999999999999995" height="56.5" fill="#cb0322" />
<rect x="384.85" y="191.7" width="7.3999999999999995" height="58.70000000000002" fill="#0f3ba8" />
<rect x="392.2" y="193.5" width="7.3999999999999995" height="56.900000000000006" fill="#48fa14" />
<rect x="407.4" y="213.3" width="7.3999999999999995" height="37.099999999999994" fill="#cb0322" />
<rect x="414.75" y="205.9" width="7.3999999999999995" height="44.5" fill="#0f3ba8" />
<rect x="422.09999999999997" y="207.8" width="7.3999999999999995" height="42.599999999999994" fill="#48fa14" />
<rect x="436.9" y="221.7" width="7.3999999999999995" height="28.700000000000017" fill="#cb0322" />
<rect x="444.25" y="214.9" width="7.3999999999999995" height="35.5" fill="#0f3ba8" />
<rect x="451.59999999999997" y="218.3" width="7.3999999999999995" height="32.099999999999994" fill="#48fa14" />
<path d="M350.08,184.10L353.48,184.10L352.23,185.90L352.23,186.40L351.33,186.40L351.33,185.90Z" fill="#111"/>
<path d="M357.43,181.40L360.83,181.40L359.58,183.20L359.58,184.20L358.68,184.20L358.68,183.20Z" fill="#111"/>
<path d="M364.78,183.90L368.18,183.90L366.93,185.70L366.93,187.20L366.03,187.20L366.03,185.70Z" fill="#111"/>
<path d="M379.48,192.30L382.88,192.30L381.62,194.10L381.62,194.20L380.73,194.20L380.73,194.10Z" fill="#111"/>
<path d="M386.83,189.90L390.23,189.90L388.98,191.70L388.98,192.00L388.08,192.00L388.08,191.70Z" fill="#111"/>
<path d="M394.18,191.70L397.57,191.70L396.32,193.50L396.32,193.80L395.43,193.80L395.43,193.50Z" fill="#111"/>
<path d="M409.38,211.50L412.77,211.50L411.52,213.30L411.52,213.60L410.62,213.60L410.62,213.30Z" fill="#111"/>
<path d="M416.73,204.10L420.12,204.10L418.88,205.90L418.88,206.20L417.98,206.20L417.98,205.90Z" fill="#111"/>
<path d="M424.07,206.10L427.47,206.10L426.22,207.90L426.22,208.10L425.32,208.10L425.32,207.90Z" fill="#111"/>
<path d="M438.88,220.10L442.27,220.10L441.02,221.90L441.02,222.00L440.12,222.00L440.12,221.90Z" fill="#111"/>
<path d="M446.23,212.80L449.62,212.80L448.38,214.60L448.38,215.20L447.48,215.20L447.48,214.60Z" fill="#111"/>
<path d="M453.57,216.00L456.97,216.00L455.72,217.80L455.72,218.60L454.82,218.60L454.82,217.80Z" fill="#111"/>
<line x1="359.3" y1="250.4" x2="359.3" y2="252.6" stroke="#000" stroke-width="1" />
<text x="352.5" y="260.2" font-size="7.8" fill="#262626" textLength="11.9" lengthAdjust="spacingAndGlyphs"  stroke="#262626" stroke-width="0.18">Pro</text>
<line x1="388.5" y1="250.4" x2="388.5" y2="252.6" stroke="#000" stroke-width="1" />
<text x="380.7" y="260.2" font-size="7.8" fill="#262626" textLength="15.9" lengthAdjust="spacingAndGlyphs"  stroke="#262626" stroke-width="0.18">Baso</text>
<line x1="418.0" y1="250.4" x2="418.0" y2="252.6" stroke="#000" stroke-width="1" />
<text x="411.8" y="260.2" font-size="7.8" fill="#262626" textLength="13.700000000000001" lengthAdjust="spacingAndGlyphs"  stroke="#262626" stroke-width="0.18">Poly</text>
<line x1="447.5" y1="250.4" x2="447.5" y2="252.6" stroke="#000" stroke-width="1" />
<text x="437.40000000000003" y="260.2" font-size="7.8" fill="#262626" textLength="20.7" lengthAdjust="spacingAndGlyphs"  stroke="#262626" stroke-width="0.18">Ortho</text>
<text x="346.7" y="155.9" font-size="7.8" fill="#d21e3c" font-weight="bold" textLength="21.6" lengthAdjust="spacingAndGlyphs" >shLuci</text>
<text x="346.7" y="164.2" font-size="7.8" fill="#1f3fc0" font-weight="bold" textLength="39.2" lengthAdjust="spacingAndGlyphs" >shHDAC5-1</text>
<text x="346.7" y="172.2" font-size="7.8" fill="#3fe82a" font-weight="bold" textLength="39.7" lengthAdjust="spacingAndGlyphs" >shHDAC5-2</text>
<text x="355.8" y="180.8" font-size="6.7" fill="#111" textLength="8.6" lengthAdjust="spacingAndGlyphs" stroke="#111" stroke-width="0.28">NS</text>
<text x="364.7" y="183.3" font-size="6.7" fill="#111" textLength="8.6" lengthAdjust="spacingAndGlyphs" stroke="#111" stroke-width="0.28">NS</text>
<text x="385.0" y="187.1" font-size="6.7" fill="#111" textLength="8.5" lengthAdjust="spacingAndGlyphs" stroke="#111" stroke-width="0.28">NS</text>
<text x="393.9" y="190.9" font-size="6.7" fill="#111" textLength="8.4" lengthAdjust="spacingAndGlyphs" stroke="#111" stroke-width="0.28">NS</text>
<line x1="413" y1="196.7" x2="425" y2="196.7" stroke="#000" stroke-width="1.0" />
<path d="M415.85,192.25L415.85,195.55M414.42,193.08L417.28,194.72M417.28,193.08L414.42,194.72" stroke="#000" stroke-width="0.95" fill="none"/>
<path d="M419.65,192.25L419.65,195.55M418.22,193.08L421.08,194.72M421.08,193.08L418.22,194.72" stroke="#000" stroke-width="0.95" fill="none"/>
<line x1="408.9" y1="203.1" x2="420" y2="203.1" stroke="#000" stroke-width="1.0" />
<path d="M410.85,197.95L410.85,201.25M409.42,198.78L412.28,200.42M412.28,198.78L409.42,200.42" stroke="#000" stroke-width="0.95" fill="none"/>
<path d="M414.25,197.95L414.25,201.25M412.82,198.78L415.68,200.42M415.68,198.78L412.82,200.42" stroke="#000" stroke-width="0.95" fill="none"/>
<path d="M417.65,197.95L417.65,201.25M416.22,198.78L419.08,200.42M419.08,198.78L416.22,200.42" stroke="#000" stroke-width="0.95" fill="none"/>
<line x1="441" y1="203.2" x2="457.2" y2="203.2" stroke="#000" stroke-width="1.0" />
<path d="M448.50,198.55L448.50,201.85M447.07,199.38L449.93,201.02M449.93,199.38L447.07,201.02" stroke="#000" stroke-width="0.95" fill="none"/>
<line x1="438" y1="211.2" x2="447.8" y2="211.2" stroke="#000" stroke-width="1.0" />
<path d="M441.65,204.55L441.65,207.85M440.22,205.38L443.08,207.02M443.08,205.38L440.22,207.02" stroke="#000" stroke-width="0.95" fill="none"/>
<path d="M445.75,204.55L445.75,207.85M444.32,205.38L447.18,207.02M447.18,205.38L444.32,207.02" stroke="#000" stroke-width="0.95" fill="none"/>
<text transform="translate(328.6,248.7) rotate(-90)" font-size="9.6" fill="#262626" textLength="40.2" lengthAdjust="spacingAndGlyphs">Nuclear area</text>
<text transform="translate(328.6,208.4) rotate(-90)" font-size="9.6" fill="#262626" textLength="40.9" lengthAdjust="spacingAndGlyphs">(mean, µm)</text>
<rect x="0" y="0" width="520" height="1.2" fill="#000"/>
<rect x="0" y="0" width="1.5" height="270" fill="#000"/>
<rect x="518.3" y="0" width="1.7" height="270" fill="#000"/>
<rect x="0" y="268.2" width="520" height="1.8" fill="#000"/>
</svg></div>
</body></html>
